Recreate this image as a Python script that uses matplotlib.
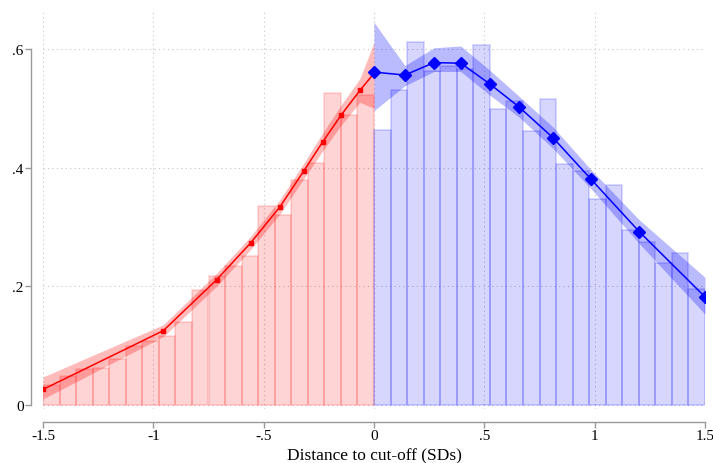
import numpy as np
import matplotlib
matplotlib.use("Agg")
import matplotlib.pyplot as plt

plt.rcParams['font.family'] = ['Liberation Serif', 'DejaVu Serif']

# histogram heights, bins of width 0.075 on each side of the cut-off
bin_width = 0.075
left_heights = [0.033, 0.048, 0.061, 0.062, 0.078, 0.100, 0.108, 0.116, 0.139, 0.194,
                0.217, 0.234, 0.251, 0.335, 0.320, 0.379, 0.407, 0.525, 0.489, 0.523]
right_heights = [0.464, 0.530, 0.612, 0.563, 0.571, 0.567, 0.606, 0.499, 0.513, 0.462,
                 0.515, 0.406, 0.395, 0.347, 0.370, 0.295, 0.274, 0.239, 0.256, 0.196]

# local fit below the cut-off
left_x = [-1.5, -0.955, -0.713, -0.559, -0.426, -0.317, -0.233, -0.148, -0.064, 0.0]
left_y = [0.026, 0.125, 0.211, 0.273, 0.334, 0.395, 0.443, 0.489, 0.530, 0.559]
left_lo = [0.010, 0.115, 0.200, 0.262, 0.322, 0.382, 0.428, 0.472, 0.510, 0.500]
left_hi = [0.047, 0.135, 0.222, 0.284, 0.346, 0.408, 0.458, 0.506, 0.550, 0.611]

# local fit above the cut-off
right_x = [0.0, 0.140, 0.272, 0.393, 0.525, 0.658, 0.812, 0.982, 1.202, 1.5]
right_y = [0.561, 0.556, 0.577, 0.576, 0.541, 0.502, 0.450, 0.381, 0.292, 0.182]
right_lo = [0.496, 0.538, 0.562, 0.562, 0.522, 0.485, 0.432, 0.365, 0.272, 0.153]
right_hi = [0.645, 0.572, 0.602, 0.605, 0.564, 0.520, 0.468, 0.397, 0.312, 0.215]

xticks = [-1.5, -1, -0.5, 0, 0.5, 1, 1.5]
xticklabels = ['-1.5', '-1', '-.5', '0', '.5', '1', '1.5']
yticks = [0, 0.2, 0.4, 0.6]
yticklabels = ['0', '.2', '.4', '.6']

fig = plt.figure(figsize=(7.13, 4.64), dpi=100)
ax = fig.add_axes([43 / 713, (464 - 410) / 464, 662 / 713, (410 - 12) / 464])

left_edges = np.arange(len(left_heights)) * bin_width - 1.5
right_edges = np.arange(len(right_heights)) * bin_width

ax.bar(left_edges, left_heights, width=bin_width, align='edge',
       facecolor=(1, 0, 0, 0.17), edgecolor=(1, 0, 0, 0.15), linewidth=1.2, zorder=2)
ax.bar(right_edges, right_heights, width=bin_width, align='edge',
       facecolor=(0, 0, 1, 0.16), edgecolor=(0, 0, 1, 0.17), linewidth=1.2, zorder=2)

ax.fill_between(left_x, left_lo, left_hi, color='red', alpha=0.27, linewidth=0, zorder=3)
ax.fill_between(right_x, right_lo, right_hi, color='blue', alpha=0.27, linewidth=0, zorder=3)

ax.plot(left_x, left_y, color='red', linewidth=1.1, marker='s', markersize=2.2, zorder=4)
ax.plot(right_x, right_y, color='blue', linewidth=1.1, marker='D', markersize=6.5, zorder=5)

ax.set_xlim(-1.5, 1.5)
ax.set_ylim(-0.007, 0.664)

ax.set_xticks(xticks)
ax.set_xticklabels(xticklabels)
ax.set_yticks(yticks)
ax.set_yticklabels(yticklabels)

ax.grid(True, linestyle=(0, (1, 3)), color='#c4c4c4', linewidth=0.8, zorder=0)
ax.set_axisbelow(True)

for side in ['top', 'right']:
    ax.spines[side].set_visible(False)
ax.spines['left'].set_position(('outward', 8.4))
ax.spines['bottom'].set_position(('outward', 9))
ax.spines['left'].set_bounds(0, 0.6)
ax.spines['bottom'].set_bounds(-1.5, 1.5)
for side in ['left', 'bottom']:
    ax.spines[side].set_color('#999999')
    ax.spines[side].set_linewidth(1.0)

ax.tick_params(axis='both', colors='#999999', length=4, width=1.0, labelsize=11,
               labelcolor='black', pad=1.5)

ax.set_xlabel('Distance to cut-off (SDs)', fontsize=12.5, labelpad=4)

fig.savefig('out.png', dpi=100)
